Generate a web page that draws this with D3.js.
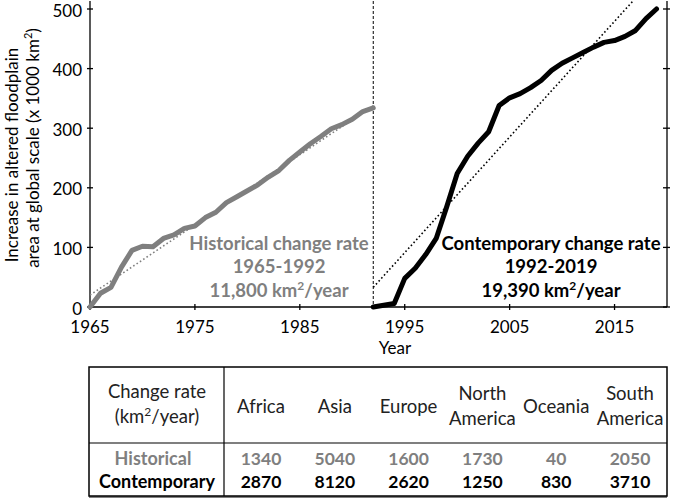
<!DOCTYPE html>
<html>
<head>
<meta charset="utf-8">
<script src="https://cdn.jsdelivr.net/npm/d3@7"></script>
<style>
  body { margin: 0; background: #fff; }
  text { font-family: Lato, "Open Sans", sans-serif; }
</style>
</head>
<body>
<div id="chart"></div>
<script>
// floodplain change chart + regional table

// yearly series, thousand km2
let histYears = [1965, 1966, 1967, 1968, 1969, 1970, 1971, 1972, 1973, 1974, 1975, 1976, 1977, 1978,
  1979, 1980, 1981, 1982, 1983, 1984, 1985, 1986, 1987, 1988, 1989, 1990, 1991, 1992];
let histValues = [0, 23, 33, 67, 95, 102, 101, 115, 121, 132, 136, 150, 159, 175,
  185, 195, 205, 218, 229, 246, 260, 274, 286, 299, 306, 315, 328, 334];

let contYears = [1992, 1993, 1994, 1995, 1996, 1997, 1998, 1999, 2000, 2001, 2002, 2003, 2004, 2005,
  2006, 2007, 2008, 2009, 2010, 2011, 2012, 2013, 2014, 2015, 2016, 2017, 2018, 2019];
let contValues = [0, 3, 6, 48, 65, 88, 115, 168, 224, 253, 275, 294, 338, 351,
  358, 368, 380, 397, 409, 418, 427, 436, 444, 447, 454, 464, 484, 500];

// linear fits (start/end)
let histTrend = [[1965, 20], [1992, 338]];
let contTrend = [[1992, 33], [2019, 557]];

let xTicks = [1965, 1975, 1985, 1995, 2005, 2015];
let yTicks = [0, 100, 200, 300, 400, 500];
let splitYear = 1992;

// table
let regions = ["Africa", "Asia", "Europe", "North America", "Oceania", "South America"];
let histRates = [1340, 5040, 1600, 1730, 40, 2050];
let contRates = [2870, 8120, 2620, 1250, 830, 3710];

let grey = "#7f7f7f";

let svg = d3.select("#chart").append("svg")
  .attr("width", 675)
  .attr("height", 499);

// plot box
let pLeft = 90, pRight = 667, pTop = 1, pBottom = 307;

let x = d3.scaleLinear().domain([1965, 2020]).range([pLeft, pRight]);
let y = d3.scaleLinear().domain([0, 500]).range([pBottom, 9]);

svg.append("clipPath").attr("id", "plotClip")
  .append("rect")
  .attr("x", pLeft).attr("y", pTop)
  .attr("width", pRight - pLeft).attr("height", pBottom - pTop);

// axes lines
let axisG = svg.append("g").attr("stroke", "#000").attr("stroke-width", 1.3);
axisG.append("line").attr("x1", pLeft).attr("x2", pLeft).attr("y1", pTop).attr("y2", pBottom);
axisG.append("line").attr("x1", pRight).attr("x2", pRight).attr("y1", pTop).attr("y2", pBottom);
axisG.append("line").attr("x1", pLeft).attr("x2", pRight).attr("y1", pBottom).attr("y2", pBottom);

// crossing ticks
axisG.selectAll("line.yl").data(yTicks).enter().append("line")
  .attr("x1", pLeft - 3).attr("x2", pLeft + 3)
  .attr("y1", d => y(d)).attr("y2", d => y(d));
axisG.selectAll("line.yr").data(yTicks).enter().append("line")
  .attr("x1", pRight - 4).attr("x2", pRight + 3)
  .attr("y1", d => y(d)).attr("y2", d => y(d));
axisG.selectAll("line.xt").data(xTicks).enter().append("line")
  .attr("x1", d => x(d)).attr("x2", d => x(d))
  .attr("y1", pBottom - 3).attr("y2", pBottom + 3);

svg.selectAll("text.ytick").data(yTicks).enter().append("text")
  .attr("x", pLeft - 8)
  .attr("y", d => y(d) + 1.5)
  .attr("dy", "0.36em")
  .attr("text-anchor", "end")
  .attr("font-size", 17)
  .text(d => d);

svg.selectAll("text.xtick").data(xTicks).enter().append("text")
  .attr("x", d => x(d))
  .attr("y", 333)
  .attr("text-anchor", "middle")
  .attr("font-size", 17)
  .text(d => d);

svg.append("text")
  .attr("x", 395).attr("y", 354)
  .attr("text-anchor", "middle")
  .attr("font-size", 17)
  .text("Year");

// y title, two lines
let yt1 = svg.append("text")
  .attr("transform", "translate(18,155)rotate(-90)")
  .attr("text-anchor", "middle")
  .attr("font-size", 17)
  .text("Increase in altered floodplain");
let yt2 = svg.append("text")
  .attr("transform", "translate(39,148)rotate(-90)")
  .attr("text-anchor", "middle")
  .attr("font-size", 17);
yt2.append("tspan").text("area at global scale (x 1000 km");
yt2.append("tspan").attr("font-size", 11).attr("dy", -7).text("2");
yt2.append("tspan").attr("dy", 7).text(")");

// split year
svg.append("line")
  .attr("x1", x(splitYear)).attr("x2", x(splitYear))
  .attr("y1", pTop).attr("y2", pBottom)
  .attr("stroke", "#000").attr("stroke-width", 1)
  .attr("stroke-dasharray", "3,2");

let line = d3.line().x(d => x(d[0])).y(d => y(d[1]));

// trend lines
svg.append("path")
  .attr("clip-path", "url(#plotClip)")
  .attr("d", line(histTrend))
  .attr("fill", "none").attr("stroke", grey)
  .attr("stroke-width", 1.6).attr("stroke-dasharray", "1.6,2.4");
svg.append("path")
  .attr("clip-path", "url(#plotClip)")
  .attr("d", line(contTrend))
  .attr("fill", "none").attr("stroke", "#000")
  .attr("stroke-width", 1.6).attr("stroke-dasharray", "1.6,2.4");

// series
svg.append("path")
  .attr("d", line(d3.zip(histYears, histValues)))
  .attr("fill", "none").attr("stroke", grey)
  .attr("stroke-width", 5).attr("stroke-linejoin", "round").attr("stroke-linecap", "round");
svg.append("path")
  .attr("d", line(d3.zip(contYears, contValues)))
  .attr("fill", "none").attr("stroke", "#000")
  .attr("stroke-width", 5).attr("stroke-linejoin", "round").attr("stroke-linecap", "round");

// annotations
function rateLabel(cx, color, title, period, rate) {
  let g = svg.append("g")
    .attr("fill", color)
    .attr("font-weight", "bold")
    .attr("font-size", 18.5)
    .attr("text-anchor", "middle");
  g.append("text").attr("x", cx).attr("y", 250).text(title);
  g.append("text").attr("x", cx).attr("y", 273).text(period);
  let t = g.append("text").attr("x", cx).attr("y", 297);
  t.append("tspan").text(rate + " km");
  t.append("tspan").attr("font-size", 12).attr("dy", -7.5).text("2");
  t.append("tspan").attr("dy", 7.5).text("/year");
}
rateLabel(279, grey, "Historical change rate", "1965-1992", "11,800");
rateLabel(551, "#000", "Contemporary change rate", "1992-2019", "19,390");

// TABLE
let tLeft = 89, tRight = 667, tTop = 367, tMid = 443, tBottom = 496, tDiv = 224;
let col = d3.scalePoint().domain(regions).range([261, 630]);

let tg = svg.append("g").attr("stroke", "#000");
tg.append("rect")
  .attr("x", tLeft).attr("y", tTop)
  .attr("width", tRight - tLeft).attr("height", tBottom - tTop)
  .attr("fill", "none").attr("stroke-width", 1.5);
tg.append("line").attr("x1", tDiv).attr("x2", tDiv).attr("y1", tTop).attr("y2", tBottom).attr("stroke-width", 1.2);
tg.append("line").attr("x1", tLeft).attr("x2", tRight).attr("y1", tMid).attr("y2", tMid).attr("stroke-width", 1.2);
tg.append("line").attr("x1", tLeft).attr("x2", tRight).attr("y1", tBottom + 1).attr("y2", tBottom + 1).attr("stroke-width", 1);

svg.append("text")
  .attr("x", 157).attr("y", 398)
  .attr("text-anchor", "middle").attr("font-size", 18.5).attr("fill", "#222")
  .text("Change rate");
let unit = svg.append("text")
  .attr("x", 157).attr("y", 423)
  .attr("text-anchor", "middle").attr("font-size", 18.5).attr("fill", "#222");
unit.append("tspan").text("(km");
unit.append("tspan").attr("font-size", 12).attr("dy", -7.5).text("2");
unit.append("tspan").attr("dy", 7.5).text("/year)");

let heads = svg.selectAll("text.head").data(regions).enter().append("text")
  .attr("text-anchor", "middle").attr("font-size", 18.5).attr("fill", "#222");
heads.each(function(d) {
  let words = d.split(" ");
  let el = d3.select(this);
  if (words.length === 1) {
    el.append("tspan").attr("x", col(d)).attr("y", 413).text(d);
  } else {
    el.append("tspan").attr("x", col(d)).attr("y", 400).text(words[0]);
    el.append("tspan").attr("x", col(d)).attr("y", 425).text(words[1]);
  }
});

svg.append("text")
  .attr("x", 153).attr("y", 465)
  .attr("text-anchor", "middle").attr("font-size", 18)
  .attr("font-weight", "bold").attr("fill", grey)
  .text("Historical");
svg.append("text")
  .attr("x", 157).attr("y", 488)
  .attr("text-anchor", "middle").attr("font-size", 18)
  .attr("font-weight", "bold").attr("fill", "#000")
  .text("Contemporary");

svg.selectAll("text.hr").data(histRates).enter().append("text")
  .attr("x", (d, i) => col(regions[i])).attr("y", 465)
  .attr("text-anchor", "middle").attr("font-size", 17.5)
  .attr("font-weight", "bold").attr("fill", grey)
  .text(d => d);
svg.selectAll("text.cr").data(contRates).enter().append("text")
  .attr("x", (d, i) => col(regions[i])).attr("y", 488)
  .attr("text-anchor", "middle").attr("font-size", 17.5)
  .attr("font-weight", "bold").attr("fill", "#000")
  .text(d => d);
</script>
</body>
</html>
